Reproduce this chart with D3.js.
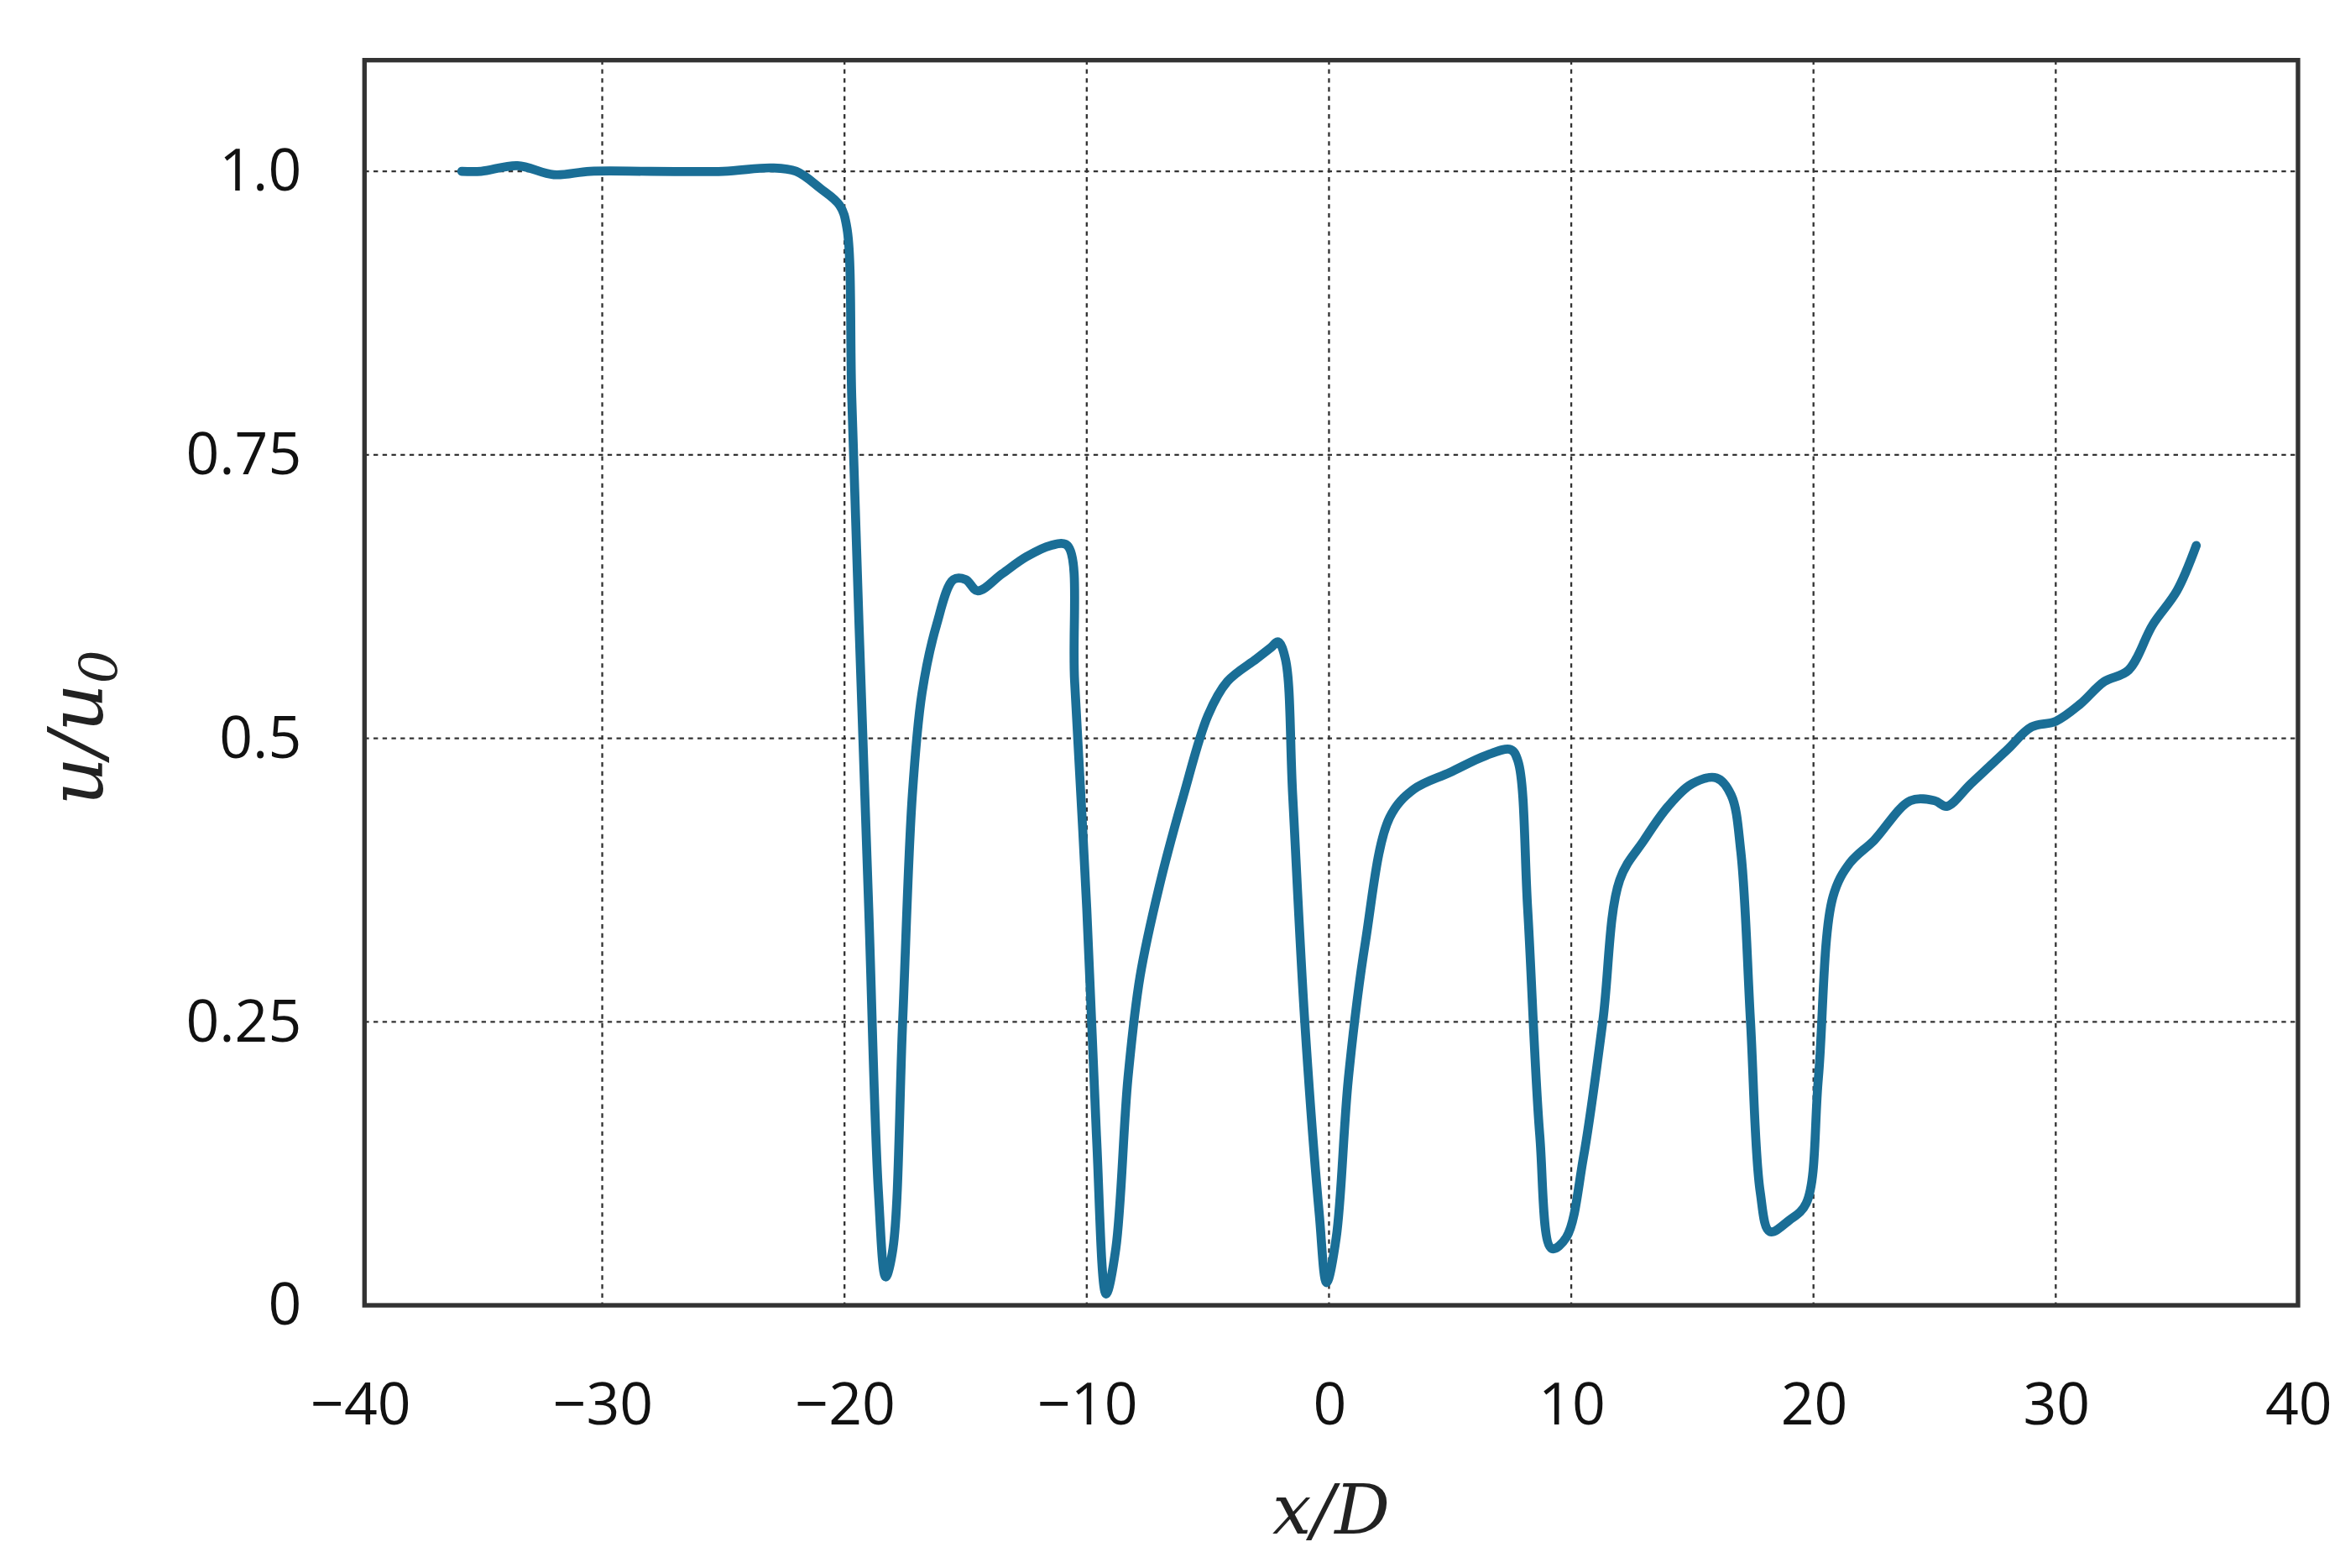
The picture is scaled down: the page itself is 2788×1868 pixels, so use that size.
<!DOCTYPE html>
<html lang="en">
<head>
<meta charset="UTF-8">
<script src="https://cdnjs.cloudflare.com/ajax/libs/d3/7.6.1/d3.min.js"></script>
<style>
  body { margin: 0; background: #fff; }
  svg { display: block; }
  .tick text { font-family: "Open Sans", sans-serif; font-size: 39px; fill: #111; }
</style>
</head>
<body>
<div id="container"></div>
<script>
// ---- data ----
const xTicks = [-40, -30, -20, -10, 0, 10, 20, 30, 40]
const yTicks = [0, 0.25, 0.5, 0.75, 1.0]
const yTickLabels = ["0", "0.25", "0.5", "0.75", "1.0"]

const xVals = [-35.8, -35, -33.5, -32, -30.5, -28, -25, -23, -22, -21, -20.2, -19.9, -19.7, -19.4, -19.0, -18.6, -18.3, -18.0, -17.6, -17.2, -16.8, -16.2, -15.5, -15, -14.5, -13.5, -12.5, -11.5, -10.8, -10.5, -10.0, -9.6, -9.2, -8.8, -8.3, -7.8, -7, -6, -5, -4.2, -3, -2.4, -2.1, -1.8, -1.5, -1.0, -0.4, -0.1, 0.3, 0.8, 1.5, 2.5, 3.5, 5, 6.5, 7.5, 7.8, 8.2, 8.7, 9.2, 9.8, 10.5, 11.3, 12, 13, 14, 15, 16, 16.6, 17, 17.4, 17.8, 18.2, 19, 19.7, 20.2, 20.8, 21.5, 22.5, 24, 25, 25.5, 26.5, 28, 29, 30, 31, 32, 33, 34, 35, 35.8]
const uVals = [1.0, 1.0, 1.005, 0.997, 1.0, 1.0, 1.0, 1.003, 1.0, 0.985, 0.97, 0.95, 0.8, 0.6, 0.35, 0.1, 0.025, 0.05, 0.25, 0.45, 0.54, 0.6, 0.64, 0.64, 0.63, 0.645, 0.66, 0.67, 0.67, 0.55, 0.35, 0.15, 0.01, 0.05, 0.2, 0.29, 0.37, 0.45, 0.52, 0.55, 0.57, 0.58, 0.585, 0.57, 0.45, 0.25, 0.08, 0.02, 0.06, 0.2, 0.32, 0.43, 0.455, 0.47, 0.485, 0.49, 0.48, 0.35, 0.15, 0.05, 0.06, 0.13, 0.25, 0.375, 0.41, 0.44, 0.46, 0.465, 0.45, 0.4, 0.25, 0.1, 0.065, 0.075, 0.09, 0.2, 0.36, 0.39, 0.41, 0.445, 0.445, 0.44, 0.46, 0.49, 0.51, 0.515, 0.53, 0.55, 0.56, 0.6, 0.63, 0.67]

// ---- layout ----
const W = 1560, H = 1045
const plot = { left: 243, right: 1532, top: 40, bottom: 870 }

const svg = d3.select("#container").append("svg")
    .attr("viewBox", `0 0 ${W} ${H}`)
    .attr("width", 2788)
    .attr("height", 1868)

const x = d3.scaleLinear().domain([-40, 40]).range([plot.left - 3, plot.right])
const y = d3.scaleLinear().domain([0, 1.098]).range([plot.bottom, plot.top])

// grid
svg.append("g").selectAll("line").data(xTicks.slice(1, -1)).join("line")
    .attr("x1", d => x(d)).attr("x2", d => x(d))
    .attr("y1", plot.top).attr("y2", plot.bottom)
    .attr("stroke", "#333").attr("stroke-width", 1.3).attr("stroke-dasharray", "3,3")
svg.append("g").selectAll("line").data(yTicks.slice(1)).join("line")
    .attr("x1", plot.left).attr("x2", plot.right)
    .attr("y1", d => y(d)).attr("y2", d => y(d))
    .attr("stroke", "#333").attr("stroke-width", 1.3).attr("stroke-dasharray", "3,3")

// axes (labels only)
const xAxis = svg.append("g").attr("transform", `translate(0,${plot.bottom})`)
    .call(d3.axisBottom(x).tickValues(xTicks).tickSize(0).tickPadding(52).tickFormat(d => d3.format("")(d).replace("-", "\u2212")))
xAxis.select(".domain").remove()
const yAxis = svg.append("g").attr("transform", `translate(${plot.left},0)`)
    .call(d3.axisLeft(y).tickValues(yTicks).tickSize(0).tickPadding(42).tickFormat((d, i) => yTickLabels[i]))
yAxis.select(".domain").remove()

// curve
const data = xVals.map((v, i) => [v, uVals[i]])
svg.append("path").datum(data)
    .attr("fill", "none").attr("stroke", "#1a6e96").attr("stroke-width", 6)
    .attr("stroke-linejoin", "round").attr("stroke-linecap", "round")
    .attr("d", d3.line().x(d => x(d[0])).y(d => y(d[1])).curve(d3.curveCatmullRom.alpha(0.5)))

// frame
svg.append("rect")
    .attr("x", plot.left).attr("y", plot.top)
    .attr("width", plot.right - plot.left).attr("height", plot.bottom - plot.top)
    .attr("fill", "none").attr("stroke", "#333").attr("stroke-width", 3)

// axis titles
svg.append("text").attr("x", (plot.left + plot.right) / 2).attr("y", 1022)
    .attr("text-anchor", "middle").attr("font-family", "DejaVu Serif, serif").attr("font-style", "italic")
    .attr("font-size", 46).attr("fill", "#222").text("x/D")
const yt = svg.append("text").attr("transform", `translate(68,${(plot.top + plot.bottom) / 2 + 30}) rotate(-90)`)
    .attr("text-anchor", "middle").attr("font-family", "DejaVu Serif, serif").attr("font-style", "italic")
    .attr("font-size", 50).attr("fill", "#222")
yt.append("tspan").text("u/u")
yt.append("tspan").attr("font-size", 35).attr("dy", 10).text("0")
</script>
</body>
</html>
